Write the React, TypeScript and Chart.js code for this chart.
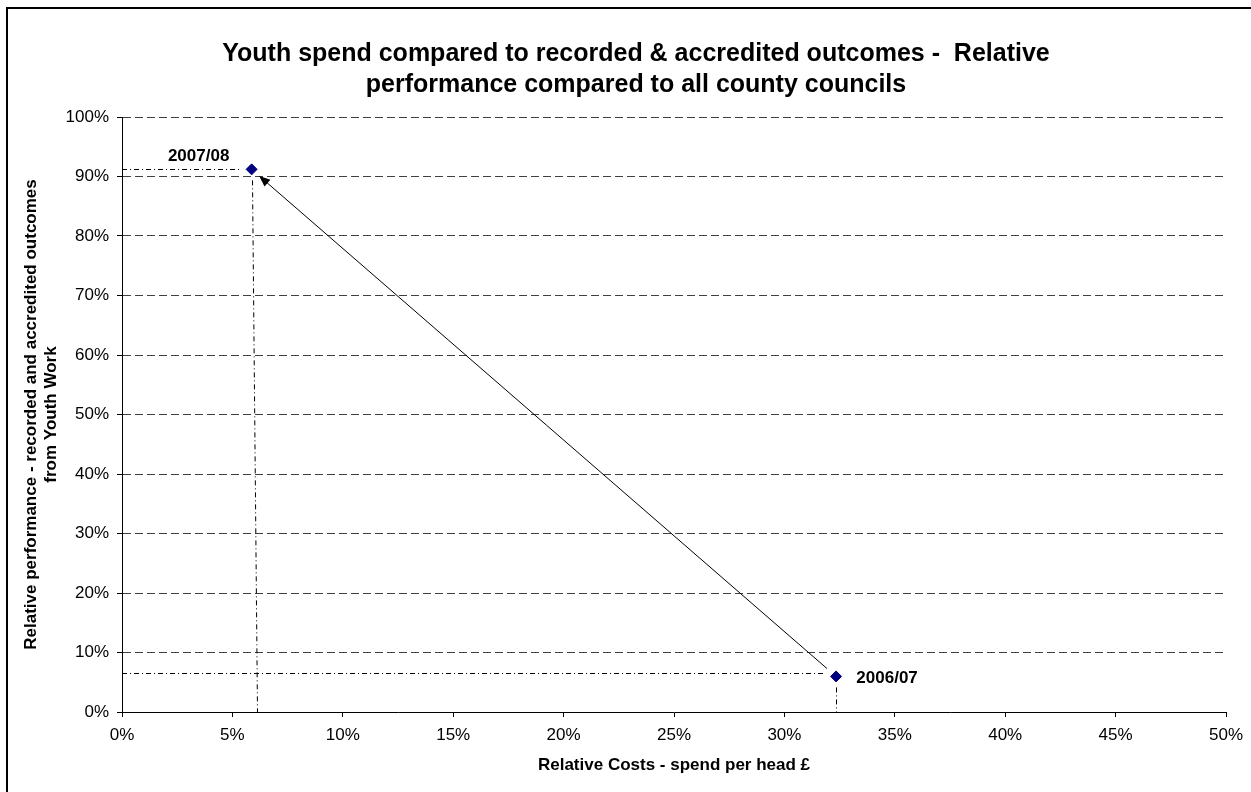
import { useEffect, useRef } from "react";
import { Chart, registerables } from "chart.js";

Chart.register(...registerables);

const FONT = 'Arial, "Liberation Sans", sans-serif';

// Two survey years plotted as cost vs. outcome percentiles
const periods = ["2006/07", "2007/08"];
const relativeCost = [32.34, 5.87];
const relativePerformance = [5.98, 91.2];

// Where each dash-dot guide line meets the axes
const guideFootX = [32.35, 6.1];
const guideLevelY = [6.55, 91.2];

// Axis ranges and tick steps
const xRange = [0, 50];
const xStep = 5;
const yRange = [0, 100];
const yStep = 10;

const titleLines = [
  "Youth spend compared to recorded & accredited outcomes -  Relative",
  "performance compared to all county councils",
];
const xAxisTitle = "Relative Costs - spend per head £";
const yAxisTitle = [
  "Relative performance - recorded and accredited outcomes",
  "from Youth Work",
];

const CANVAS_W = 1280;
const CANVAS_H = 792;

const decorations = {
  id: "decorations",
  beforeDatasetsDraw(chart: Chart) {
    const { ctx } = chart;
    const xs = chart.scales.x;
    const ys = chart.scales.y;
    const pts = relativeCost.map((v, i) => ({
      x: xs.getPixelForValue(v),
      y: ys.getPixelForValue(relativePerformance[i]),
    }));

    // dash-dot drop lines to both axes
    ctx.save();
    ctx.strokeStyle = "#000";
    ctx.lineWidth = 1;
    ctx.setLineDash([5, 3, 1, 3]);
    pts.forEach((p, i) => {
      const gy = Math.round(ys.getPixelForValue(guideLevelY[i])) + 0.5;
      ctx.beginPath();
      ctx.moveTo(xs.left, gy);
      ctx.lineTo(p.x - 10, gy);
      ctx.stroke();
      ctx.beginPath();
      ctx.moveTo(Math.round(p.x) + 0.5, p.y + 11);
      ctx.lineTo(Math.round(xs.getPixelForValue(guideFootX[i])) + 0.5, ys.bottom);
      ctx.stroke();
    });
    ctx.restore();

    // arrow from the earlier year to the later one
    const a = pts[0];
    const b = pts[1];
    const dx = b.x - a.x;
    const dy = b.y - a.y;
    const len = Math.hypot(dx, dy);
    const ux = dx / len;
    const uy = dy / len;
    const sx = a.x + ux * 12;
    const sy = a.y + uy * 12;
    const tx = b.x - ux * 10;
    const ty = b.y - uy * 10;
    const headL = 11;
    const headW = 4.5;
    ctx.save();
    ctx.strokeStyle = "#000";
    ctx.fillStyle = "#000";
    ctx.lineWidth = 1;
    ctx.beginPath();
    ctx.moveTo(sx, sy);
    ctx.lineTo(tx - ux * headL * 0.8, ty - uy * headL * 0.8);
    ctx.stroke();
    ctx.beginPath();
    ctx.moveTo(tx, ty);
    ctx.lineTo(tx - ux * headL - uy * headW, ty - uy * headL + ux * headW);
    ctx.lineTo(tx - ux * headL + uy * headW, ty - uy * headL - ux * headW);
    ctx.closePath();
    ctx.fill();
    ctx.restore();
  },
  afterDraw(chart: Chart) {
    const { ctx } = chart;
    const xs = chart.scales.x;
    const ys = chart.scales.y;

    // outer frame
    ctx.save();
    ctx.strokeStyle = "#000";
    ctx.lineWidth = 2;
    ctx.strokeRect(7, 8, CANVAS_W - 14, CANVAS_H);
    ctx.restore();

    // chart title
    ctx.save();
    ctx.fillStyle = "#000";
    ctx.font = `bold 25px ${FONT}`;
    ctx.textAlign = "center";
    ctx.textBaseline = "alphabetic";
    const cx = 636;
    ctx.fillText(titleLines[0], cx, 61);
    ctx.fillText(titleLines[1], cx, 92);
    ctx.restore();

    // period labels next to the markers
    const offsets = [
      { dx: 51, dy: 2 },
      { dx: -53, dy: -13 },
    ];
    ctx.save();
    ctx.fillStyle = "#000";
    ctx.font = `bold 17px ${FONT}`;
    ctx.textAlign = "center";
    ctx.textBaseline = "middle";
    periods.forEach((label, i) => {
      const px = xs.getPixelForValue(relativeCost[i]);
      const py = ys.getPixelForValue(relativePerformance[i]);
      ctx.fillText(label, px + offsets[i].dx, py + offsets[i].dy);
    });
    ctx.restore();
  },
};

export default function App() {
  const ref = useRef<HTMLCanvasElement>(null);

  useEffect(() => {
    if (!ref.current) return;
    const chart = new Chart(ref.current, {
      type: "scatter",
      data: {
        datasets: [
          {
            label: "Relative position",
            data: relativeCost.map((x, i) => ({ x, y: relativePerformance[i] })),
            pointStyle: "rectRot",
            pointRadius: 5.5,
            pointHoverRadius: 5.5,
            backgroundColor: "#000080",
            borderColor: "#000080",
            borderWidth: 1,
            showLine: false,
          },
        ],
      },
      options: {
        responsive: false,
        animation: false,
        devicePixelRatio: 1,
        layout: { padding: { left: 0, right: 54, top: 117, bottom: 0 } },
        plugins: {
          legend: { display: false },
          tooltip: { enabled: false },
          title: { display: false },
        },
        scales: {
          x: {
            type: "linear",
            min: xRange[0],
            max: xRange[1],
            ticks: {
              stepSize: xStep,
              color: "#000",
              font: { family: FONT, size: 17 },
              padding: 8,
              callback: (v) => `${v}%`,
            },
            grid: {
              drawOnChartArea: false,
              drawTicks: true,
              tickLength: 5,
              tickColor: "#000",
            },
            border: { color: "#000", width: 1 },
            title: {
              display: true,
              text: xAxisTitle,
              color: "#000",
              font: { family: FONT, size: 17, weight: "bold" },
              padding: { top: 0, bottom: 16 },
            },
            afterFit: (s) => {
              s.height = 80;
            },
          },
          y: {
            type: "linear",
            min: yRange[0],
            max: yRange[1],
            ticks: {
              stepSize: yStep,
              color: "#000",
              font: { family: FONT, size: 17 },
              padding: 8,
              callback: (v) => `${v}%`,
            },
            grid: {
              color: "#404040",
              lineWidth: 1,
              drawTicks: true,
              tickLength: 5,
              tickColor: "#000",
              tickBorderDash: [],
            },
            border: { color: "#000", width: 1, dash: [8, 4] },
            title: {
              display: true,
              text: yAxisTitle,
              color: "#000",
              font: { family: FONT, size: 17, weight: "bold" },
              padding: { top: 21, bottom: 0 },
            },
            afterFit: (s) => {
              s.width = 122;
            },
          },
        },
      },
      plugins: [decorations],
    });
    return () => chart.destroy();
  }, []);

  return (
    <div
      style={{
        position: "fixed",
        left: 0,
        top: 0,
        width: 1251,
        height: 792,
        overflow: "hidden",
        background: "#fff",
      }}
    >
      <canvas
        ref={ref}
        width={CANVAS_W}
        height={CANVAS_H}
        style={{ display: "block", width: CANVAS_W, height: CANVAS_H }}
      />
    </div>
  );
}
